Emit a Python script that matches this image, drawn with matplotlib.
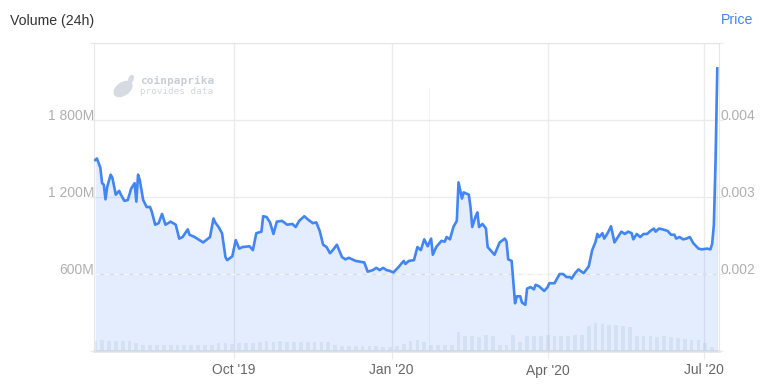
import matplotlib.pyplot as plt
import pandas as pd
from matplotlib.patches import Ellipse
from matplotlib.transforms import IdentityTransform

# price line (right axis)
price_dates = [
    '2019-07-12', '2019-07-13', '2019-07-15', '2019-07-16', '2019-07-17', '2019-07-18', '2019-07-19',
    '2019-07-21', '2019-07-22', '2019-07-24', '2019-07-26', '2019-07-27', '2019-07-29', '2019-07-31',
    '2019-08-02', '2019-08-04', '2019-08-05', '2019-08-06', '2019-08-07', '2019-08-09', '2019-08-11',
    '2019-08-13', '2019-08-14', '2019-08-16', '2019-08-18', '2019-08-20', '2019-08-22', '2019-08-25',
    '2019-08-28', '2019-08-30', '2019-09-01', '2019-09-04', '2019-09-05', '2019-09-08', '2019-09-13',
    '2019-09-17', '2019-09-19', '2019-09-20', '2019-09-22', '2019-09-24', '2019-09-26', '2019-09-27',
    '2019-09-30', '2019-10-02', '2019-10-04', '2019-10-06', '2019-10-10', '2019-10-12', '2019-10-14',
    '2019-10-17', '2019-10-18', '2019-10-20', '2019-10-22', '2019-10-24', '2019-10-26', '2019-10-29',
    '2019-11-01', '2019-11-04', '2019-11-06', '2019-11-08', '2019-11-11', '2019-11-13', '2019-11-16',
    '2019-11-18', '2019-11-20', '2019-11-22', '2019-11-24', '2019-11-26', '2019-11-28', '2019-11-30',
    '2019-12-03', '2019-12-05', '2019-12-07', '2019-12-11', '2019-12-16', '2019-12-18', '2019-12-21',
    '2019-12-23', '2019-12-25', '2019-12-27', '2019-12-29', '2019-12-31', '2020-01-02', '2020-01-05',
    '2020-01-08', '2020-01-09', '2020-01-11', '2020-01-14', '2020-01-16', '2020-01-18', '2020-01-20',
    '2020-01-22', '2020-01-24', '2020-01-25', '2020-01-27', '2020-01-30', '2020-02-01', '2020-02-02',
    '2020-02-04', '2020-02-06', '2020-02-08', '2020-02-09', '2020-02-11', '2020-02-12', '2020-02-15',
    '2020-02-16', '2020-02-17', '2020-02-19', '2020-02-20', '2020-02-21', '2020-02-23', '2020-02-25',
    '2020-02-26', '2020-03-01', '2020-03-04', '2020-03-07', '2020-03-08', '2020-03-09', '2020-03-11',
    '2020-03-13', '2020-03-14', '2020-03-16', '2020-03-17', '2020-03-19', '2020-03-20', '2020-03-22',
    '2020-03-24', '2020-03-25', '2020-03-27', '2020-03-30', '2020-04-01', '2020-04-02', '2020-04-05',
    '2020-04-08', '2020-04-10', '2020-04-12', '2020-04-14', '2020-04-15', '2020-04-17', '2020-04-19',
    '2020-04-22', '2020-04-25', '2020-04-27', '2020-04-29', '2020-04-30', '2020-05-01', '2020-05-03',
    '2020-05-04', '2020-05-06', '2020-05-08', '2020-05-10', '2020-05-12', '2020-05-14', '2020-05-16',
    '2020-05-18', '2020-05-20', '2020-05-21', '2020-05-23', '2020-05-25', '2020-05-27', '2020-05-29',
    '2020-05-31', '2020-06-02', '2020-06-03', '2020-06-05', '2020-06-07', '2020-06-10', '2020-06-12',
    '2020-06-14', '2020-06-15', '2020-06-17', '2020-06-19', '2020-06-21', '2020-06-23', '2020-06-25',
    '2020-06-28', '2020-06-30', '2020-07-03', '2020-07-05', '2020-07-06', '2020-07-07', '2020-07-08',
    '2020-07-09',
]
price = [
    0.00348, 0.00350, 0.00338, 0.00318, 0.00316, 0.00297, 0.00313,
    0.00329, 0.00325, 0.00303, 0.00308, 0.00303, 0.00295, 0.00296,
    0.00311, 0.00318, 0.00294, 0.00329, 0.00322, 0.00296, 0.00287,
    0.00287, 0.00281, 0.00264, 0.00266, 0.00278, 0.00264, 0.00268,
    0.00264, 0.00246, 0.00248, 0.00258, 0.00251, 0.00248, 0.00241,
    0.00248, 0.00272, 0.00267, 0.00261, 0.00253, 0.00222, 0.00218,
    0.00223, 0.00244, 0.00233, 0.00235, 0.00236, 0.00231, 0.00253,
    0.00255, 0.00275, 0.00274, 0.00267, 0.00252, 0.00268, 0.00269,
    0.00264, 0.00265, 0.00261, 0.00269, 0.00275, 0.00271, 0.00266,
    0.00267, 0.00256, 0.00238, 0.00235, 0.00227, 0.00232, 0.00238,
    0.00222, 0.00219, 0.00221, 0.00217, 0.00215, 0.00203, 0.00205,
    0.00208, 0.00205, 0.00208, 0.00205, 0.00204, 0.00202, 0.00209,
    0.00217, 0.00213, 0.00217, 0.00218, 0.00235, 0.00231, 0.00245,
    0.00236, 0.00246, 0.00225, 0.00235, 0.00243, 0.00242, 0.00248,
    0.00245, 0.00261, 0.00269, 0.00319, 0.00298, 0.00306, 0.00303,
    0.00287, 0.00261, 0.00275, 0.00280, 0.00261, 0.00265, 0.00259,
    0.00235, 0.00225, 0.00241, 0.00246, 0.00242, 0.00219, 0.00217,
    0.00162, 0.00171, 0.00171, 0.00163, 0.00160, 0.00181, 0.00183,
    0.00180, 0.00186, 0.00184, 0.00178, 0.00183, 0.00188, 0.00188,
    0.00200, 0.00200, 0.00196, 0.00196, 0.00194, 0.00201, 0.00206,
    0.00201, 0.00210, 0.00231, 0.00242, 0.00252, 0.00248, 0.00253,
    0.00246, 0.00253, 0.00262, 0.00241, 0.00248, 0.00255, 0.00252,
    0.00255, 0.00253, 0.00245, 0.00252, 0.00248, 0.00252, 0.00252,
    0.00256, 0.00259, 0.00255, 0.00259, 0.00258, 0.00256, 0.00251,
    0.00251, 0.00246, 0.00248, 0.00245, 0.00246, 0.00248, 0.00240,
    0.00233, 0.00232, 0.00233, 0.00232, 0.00239, 0.00264, 0.00348,
    0.00467,
]

# volume bars (left axis, millions), one bar every 4 days from volume_start
volume_start = '2019-07-12'
volume_m = [
    80, 82, 78, 80, 76, 80, 60, 47, 45, 47, 44, 46, 45, 47, 50, 48, 46, 50, 60, 62,
    58, 64, 60, 65, 72, 75, 70, 78, 72, 70, 74, 70, 72, 68, 70, 50, 42, 40, 38, 40,
    36, 38, 34, 33, 36, 55, 80, 86, 70, 45, 47, 48, 46, 150, 118, 120, 112, 125, 118, 50,
    45, 125, 70, 120, 118, 115, 122, 118, 120, 116, 122, 125, 195, 220, 210, 205, 200, 195, 185, 120,
    118, 115, 112, 118, 110, 100, 90, 88, 86, 60, 33,
]
spike_dates = ['2020-01-23', '2020-07-09']
spike_m = [2050, 1300]

x_ticks = ['2019-10-01', '2020-01-01', '2020-04-01', '2020-07-01']
x_labels = ["Oct '19", "Jan '20", "Apr '20", "Jul '20"]
vol_ticks = [0, 600, 1200, 1800, 2400]
vol_labels = ['', '600M', '1 200M', '1 800M', '']
price_ticks = [0.001, 0.002, 0.003, 0.004, 0.005]
price_labels = ['', '0.002', '0.003', '0.004', '']

blue = '#4285f4'
grid = '#ebebeb'

plt.rcParams['font.family'] = ['Liberation Sans', 'DejaVu Sans']

pdates = pd.to_datetime(price_dates)
vdates = pd.date_range(volume_start, periods=len(volume_m), freq='4D')

fig = plt.figure(figsize=(7.62, 3.87), dpi=100)
ax = fig.add_axes([94/762, 36/387, 625/762, 308/387])
ax2 = ax.twinx()

ax.bar(vdates, volume_m, width=2.2, color='#c3cad8', alpha=0.3, lw=0, zorder=2)
ax.bar(pd.to_datetime(spike_dates), spike_m, width=0.9, color='#c3cad8', alpha=0.22, lw=0, zorder=2)

ax2.fill_between(pdates, price, 0.001, color=blue, alpha=0.14, lw=0, zorder=1)
ax2.axhline(0.002, color='#f6f8fc', lw=1, ls=(0, (4, 3)), zorder=2)
ax2.plot(pdates, price, color=blue, lw=1.9, zorder=3, solid_joinstyle='round')

ax.set_xlim(pd.Timestamp('2019-07-11 07:00'), pd.Timestamp('2020-07-10'))
ax.set_ylim(0, 2400)
ax2.set_ylim(0.001, 0.005)

ax.set_xticks(pd.to_datetime(x_ticks))
ax.set_xticklabels(x_labels)
ax.set_yticks(vol_ticks)
ax.set_yticklabels(vol_labels)
ax2.set_yticks(price_ticks)
ax2.set_yticklabels(price_labels)

ax.grid(True, color=grid, lw=1)
ax.set_axisbelow(True)
ax.tick_params(axis='y', length=3, color=grid, pad=-3, labelsize=10, labelcolor='#b0b0b0')
ax.tick_params(axis='x', length=6, color=grid, pad=3, labelsize=10, labelcolor='#666666')
ax2.tick_params(axis='y', length=3, color=grid, pad=-2, labelsize=10, labelcolor='#b0b0b0')
for lab in ax.get_yticklabels() + ax2.get_yticklabels():
    lab.set_verticalalignment('baseline')

for s in ax.spines.values():
    s.set_color('#e6e6e6')
ax.spines['bottom'].set_linewidth(2)
for s in ax2.spines.values():
    s.set_visible(False)

fig.text(10/762, 1 - 21/387, 'Volume (24h)', fontsize=10.2, color='#333333', va='center')
fig.text(753/762, 1 - 20/387, 'Price', fontsize=10.2, color=blue, va='center', ha='right')

# watermark
fig.add_artist(Ellipse((123, 387 - 89), 20, 12, angle=35, color='#d6dae1', transform=IdentityTransform()))
fig.add_artist(Ellipse((131, 387 - 79), 4, 7, angle=-20, color='#d6dae1', transform=IdentityTransform()))
fig.text(140/762, 1 - 81/387, 'coinpaprika', family='DejaVu Sans Mono', weight='bold',
         fontsize=8, color='#c9ced6', va='center')
fig.text(140/762, 1 - 92/387, 'provides data', family='DejaVu Sans Mono',
         fontsize=6.7, color='#d2d6dc', va='center')

fig.savefig('out.png', dpi=100)
